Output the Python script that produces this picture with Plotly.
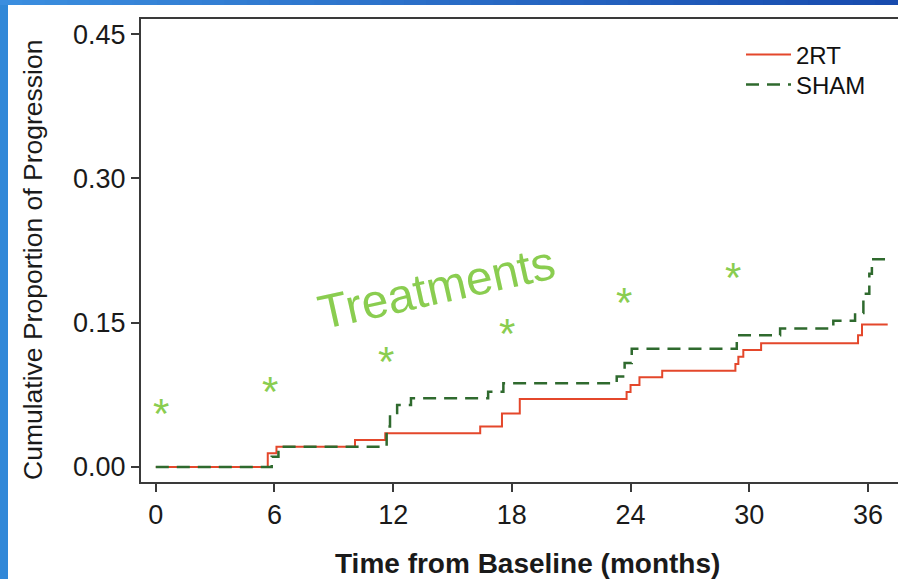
import plotly.graph_objects as go

# ---- data ----
rt_time = [0, 5.66, 6.1, 10.07, 11.6, 16.4, 17.5, 18.4, 23.8, 24.0, 24.45, 25.6,
           29.3, 29.45, 29.7, 30.6, 35.5, 35.7, 37.0]
rt_prop = [0, 0.0142, 0.021, 0.028, 0.035, 0.042, 0.0557, 0.0707, 0.078, 0.0852,
           0.0932, 0.100, 0.107, 0.1147, 0.1216, 0.1286, 0.137, 0.148, 0.148]

sham_time = [0, 5.86, 6.2, 11.67, 11.84, 12.2, 12.9, 16.8, 17.57, 23.3, 23.7, 24.06,
             29.37, 31.56, 34.25, 35.35, 35.77, 36.07, 36.2, 37.0]
sham_prop = [0, 0.0107, 0.021, 0.042, 0.056, 0.0645, 0.0714, 0.0783, 0.087, 0.094,
             0.108, 0.123, 0.137, 0.144, 0.152, 0.160, 0.180, 0.201, 0.216, 0.216]

star_time = [0.26, 5.77, 11.64, 17.76, 23.67, 29.18]
star_prop = [0.0644, 0.0873, 0.1185, 0.1476, 0.179, 0.2048]

x_ticks = [0, 6, 12, 18, 24, 30, 36]
y_ticks = [0.00, 0.15, 0.30, 0.45]
y_tick_labels = ["0.00", "0.15", "0.30", "0.45"]

series_names = ["2RT", "SHAM"]
annotation_text = "Treatments"
x_title = "Time from Baseline (months)"
y_title = "Cumulative Proportion of Progression"

RED = "#E4472B"
DGREEN = "#2F6A2E"
LGREEN = "#8ACD50"
FONT = "Liberation Sans, Arial, sans-serif"

W, H = 898, 579
L, R, T, B = 141, 0, 19, 97
pw, ph = W - L - R, H - T - B
def px_x(p):
    return (p - L) / pw
def px_y(p):
    return (H - B - p) / ph

fig = go.Figure()
fig.add_trace(go.Scatter(x=rt_time, y=rt_prop, mode="lines", line_shape="hv",
                         name=series_names[0], legend="legend",
                         line=dict(color=RED, width=2)))
fig.add_trace(go.Scatter(x=sham_time, y=sham_prop, mode="lines", line_shape="hv",
                         name=series_names[1], legend="legend2",
                         line=dict(color=DGREEN, width=2.5, dash="13px,8px")))

# asterisks marking treatments
for xt, yp in zip(star_time, star_prop):
    fig.add_annotation(x=xt, y=yp, xref="x", yref="y", text="*", showarrow=False,
                       yshift=-8, font=dict(family=FONT, size=42, color=LGREEN))

fig.add_annotation(x=14.17, y=0.187, xref="x", yref="y", text=annotation_text,
                   showarrow=False, textangle=-12.5,
                   font=dict(family=FONT, size=48, color=LGREEN))

# axis titles
fig.add_annotation(x=px_x(527), y=px_y(563), xref="paper", yref="paper",
                   text="<b>" + x_title + "</b>", showarrow=False,
                   xanchor="center", yanchor="middle",
                   font=dict(family=FONT, size=28, color="#1a1a1a"))
fig.add_annotation(x=px_x(33), y=px_y(260), xref="paper", yref="paper",
                   text=y_title, showarrow=False, textangle=-90,
                   xanchor="center", yanchor="middle",
                   font=dict(family=FONT, size=26.5, color="#1a1a1a"))

# blue frame decoration (left strip + gradient top strip)
shapes = [dict(type="rect", xref="paper", yref="paper", x0=px_x(0), x1=px_x(8),
               y0=px_y(H), y1=px_y(0), fillcolor="#3188D8", line=dict(width=0), layer="above")]
c0 = (0x3B, 0x8E, 0xDF)
c1 = (0x18, 0x4B, 0xAE)
n = 40
for i in range(n):
    f = i / (n - 1)
    col = "rgb(%d,%d,%d)" % tuple(round(a + (b - a) * f) for a, b in zip(c0, c1))
    shapes.append(dict(type="rect", xref="paper", yref="paper",
                       x0=px_x(W * i / n), x1=px_x(W * (i + 1) / n + 1),
                       y0=px_y(5), y1=px_y(0), fillcolor=col, line=dict(width=0), layer="above"))

leg_common = dict(xanchor="left", yanchor="middle", bgcolor="rgba(255,255,255,0)",
                  font=dict(family=FONT, size=24, color="#111"), itemwidth=45)

fig.update_layout(
    width=W, height=H,
    margin=dict(l=L, r=R, t=T, b=B, pad=0),
    paper_bgcolor="white", plot_bgcolor="white",
    font=dict(family=FONT, color="#1a1a1a"),
    shapes=shapes,
    showlegend=True,
    legend=dict(x=px_x(741), y=px_y(55), **leg_common),
    legend2=dict(x=px_x(741), y=px_y(85), **leg_common),
    xaxis=dict(range=[-0.748, 37.52], tickvals=x_ticks, ticktext=[str(t) for t in x_ticks],
               showgrid=False, zeroline=False, showline=True, linecolor="#3a3a3a",
               linewidth=2, mirror=True, ticks="outside", ticklen=8, tickwidth=1.5,
               tickcolor="#3a3a3a",
               tickfont=dict(family="Liberation Sans Narrow, Arial Narrow, " + FONT, size=27,
                             color="#1a1a1a")),
    yaxis=dict(range=[-0.0156, 0.4657], tickvals=y_ticks, ticktext=y_tick_labels,
               showgrid=False, zeroline=False, showline=True, linecolor="#3a3a3a",
               linewidth=2, ticks="outside", ticklen=8, tickwidth=1.5, tickcolor="#3a3a3a",
               tickfont=dict(family=FONT, size=27, color="#1a1a1a")),
)

fig.write_html("out.html")
